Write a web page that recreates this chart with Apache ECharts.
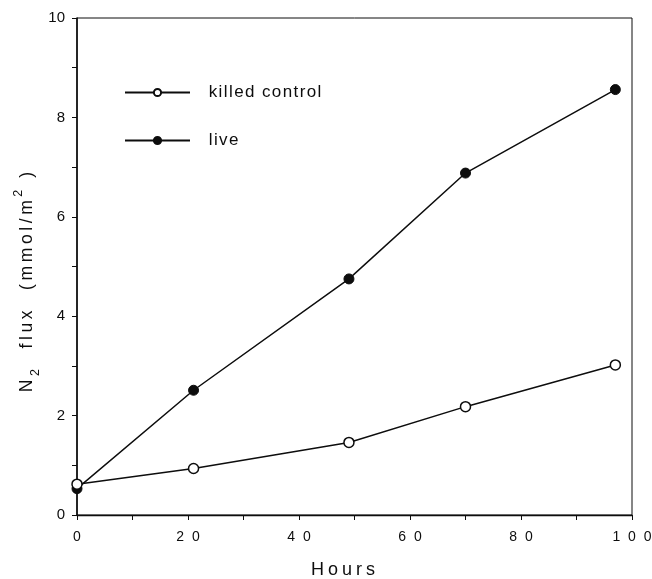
<!DOCTYPE html>
<html>
<head>
<meta charset="utf-8">
<script src="https://cdn.jsdelivr.net/npm/echarts@6/dist/echarts.min.js"></script>
<style>html,body{margin:0;padding:0;background:#fff;}#c{width:652px;height:579px;}</style>
</head>
<body>
<div id="c"></div>
<script>
const seriesNames = ['killed control', 'live'];
const hours = [0, 21, 49, 70, 97];
const killedControl = [0.62, 0.935, 1.46, 2.18, 3.02];
const live = [0.53, 2.51, 4.75, 6.88, 8.56];
const xTicks = [0, 20, 40, 60, 80, 100];
const yTicks = [0, 2, 4, 6, 8, 10];
const xTitle = 'Hours';
const yTitleParts = ['N', '2', '  flux  (mmol/m', '2', ' )'];

const FONT = 'Liberation Sans, Arial, Helvetica, sans-serif';
const INK = '#0d0d0d';

// spread characters as rich tokens (emulates letter spacing of the original print)
function spread(str, style) {
  return str.split('').map(ch => '{' + style + '|' + ch + '}').join('');
}

const yTitleText = spread(yTitleParts[0], 'n') + '{sub|' + yTitleParts[1] + '}' +
  spread(yTitleParts[2], 'n') + '{sup|' + yTitleParts[3] + '}' + spread(yTitleParts[4], 'n');

const chart = echarts.init(document.getElementById('c'), null, {renderer: 'canvas'});
chart.setOption({
  backgroundColor: '#fff',
  animation: false,
  grid: {left: 77, right: 20, top: 18, bottom: 64, show: true, borderColor: INK, borderWidth: 1, outerBoundsMode: 'none'},
  legend: {
    orient: 'vertical', left: 119, top: 79, itemGap: 31,
    itemWidth: 65, itemHeight: 9,
    data: seriesNames,
    formatter: name => spread(name, 'c'),
    textStyle: {
      fontFamily: FONT, fontSize: 17, color: INK, padding: [0, 0, 0, 13],
      rich: {c: {fontFamily: FONT, fontSize: 17, color: INK, padding: [0, 0.7, 0, 0.7]}}
    }
  },
  xAxis: {
    type: 'value', min: 0, max: 100, interval: 10,
    axisLine: {onZero: false, lineStyle: {color: INK, width: 1.3}},
    axisTick: {show: true, inside: false, length: 5, lineStyle: {color: INK}},
    splitLine: {show: false},
    axisLabel: {
      margin: 15, fontFamily: FONT, fontSize: 14, color: INK,
      formatter: v => xTicks.indexOf(v) >= 0 ? String(v).split('').join('  ') : ''
    }
  },
  yAxis: {
    type: 'value', min: 0, max: 10, interval: 1,
    axisLine: {show: true, onZero: false, lineStyle: {color: INK, width: 1.6}},
    axisTick: {show: true, inside: false, length: 5, lineStyle: {color: INK}},
    splitLine: {show: false},
    axisLabel: {
      margin: 12, fontFamily: FONT, fontSize: 15, color: INK,
      formatter: v => yTicks.indexOf(v) >= 0 ? String(v) : ''
    }
  },
  graphic: [{
    type: 'text', x: 27, y: 282, rotation: Math.PI / 2,
    style: {
      text: yTitleText,
      align: 'center', verticalAlign: 'middle',
      fill: INK, font: '17.5px ' + FONT,
      rich: {
        n: {fontSize: 17.5, fontFamily: FONT, fill: INK, lineHeight: 30, padding: [0, 1.8, 0, 1.8]},
        sub: {fontSize: 12.5, fontFamily: FONT, fill: INK, verticalAlign: 'bottom', lineHeight: 30, padding: [0, 1.8, 0, 1.8]},
        sup: {fontSize: 12.5, fontFamily: FONT, fill: INK, verticalAlign: 'top', lineHeight: 30, padding: [0, 1.8, 0, 1.8]}
      }
    }
  }, {
    type: 'text', x: 343, y: 570,
    style: {
      text: spread(xTitle, 'h'),
      align: 'center', verticalAlign: 'middle',
      fill: INK, font: '18px ' + FONT,
      rich: {h: {fontSize: 18, fontFamily: FONT, fill: INK, padding: [0, 2, 0, 2]}}
    }
  }],
  series: [
    {
      name: seriesNames[0], type: 'line',
      data: hours.map((h, i) => [h, killedControl[i]]),
      symbol: 'circle', symbolSize: 10, showSymbol: true,
      lineStyle: {color: INK, width: 1.5},
      itemStyle: {color: '#fff', borderColor: INK, borderWidth: 1.5},
      z: 3
    },
    {
      name: seriesNames[1], type: 'line',
      data: hours.map((h, i) => [h, live[i]]),
      symbol: 'circle', symbolSize: 10, showSymbol: true,
      lineStyle: {color: INK, width: 1.5},
      itemStyle: {color: INK, borderColor: INK, borderWidth: 1},
      z: 2
    }
  ]
});
</script>
</body>
</html>
